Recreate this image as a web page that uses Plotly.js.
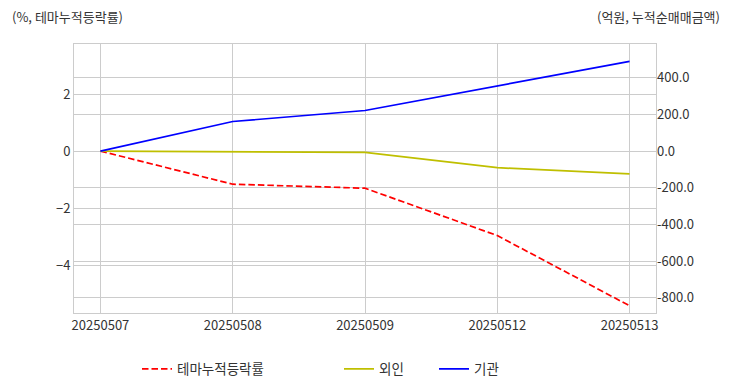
<!DOCTYPE html>
<html>
<head>
<meta charset="utf-8">
<script src="https://cdn.plot.ly/plotly-3.0.1.min.js"></script>
<style>html,body{margin:0;padding:0;background:#fff;}#chart{width:732px;height:392px;}</style>
</head>
<body>
<div id="chart"></div>
<script>
const dates = ['20250507', '20250508', '20250509', '20250512', '20250513'];
const themeReturn = [0, -1.16, -1.30, -2.96, -5.42];
const foreignNet = [0, -3, -6, -90, -124];
const instNet = [0, 162, 222, 358, 490];
const names = ['테마누적등락률', '외인', '기관'];
const rightTicks = [-800, -600, -400, -200, 0, 200, 400];

const FONT = 'Noto Sans CJK KR, Noto Sans, sans-serif';
const W = 732, H = 392;
const traces = [
  {x: dates, y: themeReturn, name: names[0], type: 'scatter', mode: 'lines',
   line: {color: '#ff0000', width: 1.7, dash: '6.5px,3px'}, yaxis: 'y', legend: 'legend'},
  {x: dates, y: foreignNet, name: names[1], type: 'scatter', mode: 'lines',
   line: {color: '#bfbf00', width: 1.7}, yaxis: 'y2', legend: 'legend2'},
  {x: dates, y: instNet, name: names[2], type: 'scatter', mode: 'lines',
   line: {color: '#0000ff', width: 1.7}, yaxis: 'y2', legend: 'legend3'}
];
function leg(px) {
  return {xref: 'container', yref: 'container', x: px / W, y: 23 / H, yanchor: 'middle', xanchor: 'left',
    orientation: 'h', font: {family: FONT, size: 13.5, color: '#333'}, bgcolor: 'rgba(0,0,0,0)'};
}
const layout = {
  width: W, height: H,
  margin: {l: 74.3, r: 76.3, t: 44.3, b: 79},
  paper_bgcolor: '#fff', plot_bgcolor: '#fff',
  font: {family: FONT, size: 13, color: '#333'},
  showlegend: true,
  xaxis: {type: 'category', range: [-0.2, 4.2], showgrid: true, gridcolor: '#cccccc', gridwidth: 1,
    zeroline: false, showline: true, linecolor: '#cccccc', mirror: true, linewidth: 1,
    tickfont: {family: FONT, size: 13, color: '#333'}, ticks: ''},
  yaxis: {range: [-5.674, 3.754], tickvals: [-4, -2, 0, 2], showgrid: true, gridcolor: '#cccccc',
    zeroline: false, showline: true, linecolor: '#cccccc', mirror: true, linewidth: 1,
    tickfont: {family: FONT, size: 13, color: '#333'}, ticks: ''},
  yaxis2: {overlaying: 'y', side: 'right', range: [-883, 585], tickvals: rightTicks,
    ticktext: rightTicks.map(v => v.toFixed(1)), showgrid: true, gridcolor: '#cccccc',
    zeroline: false, showline: false,
    tickfont: {family: FONT, size: 13, color: '#333'}, ticks: ''},
  legend: leg(137),
  legend2: leg(339),
  legend3: leg(434),
  annotations: [
    {text: '(%, 테마누적등락률)', xref: 'paper', yref: 'paper', x: 0, y: 1, xanchor: 'left', yanchor: 'bottom',
     showarrow: false, font: {family: FONT, size: 13, color: '#333'}, xshift: 10 - 74.3, yshift: 16},
    {text: '(억원, 누적순매매금액)', xref: 'paper', yref: 'paper', x: 1, y: 1, xanchor: 'right', yanchor: 'bottom',
     showarrow: false, font: {family: FONT, size: 13, color: '#333'}, xshift: 722 - 655.7, yshift: 16}
  ]
};
Plotly.newPlot('chart', traces, layout, {displayModeBar: false, staticPlot: true});
</script>
</body>
</html>
